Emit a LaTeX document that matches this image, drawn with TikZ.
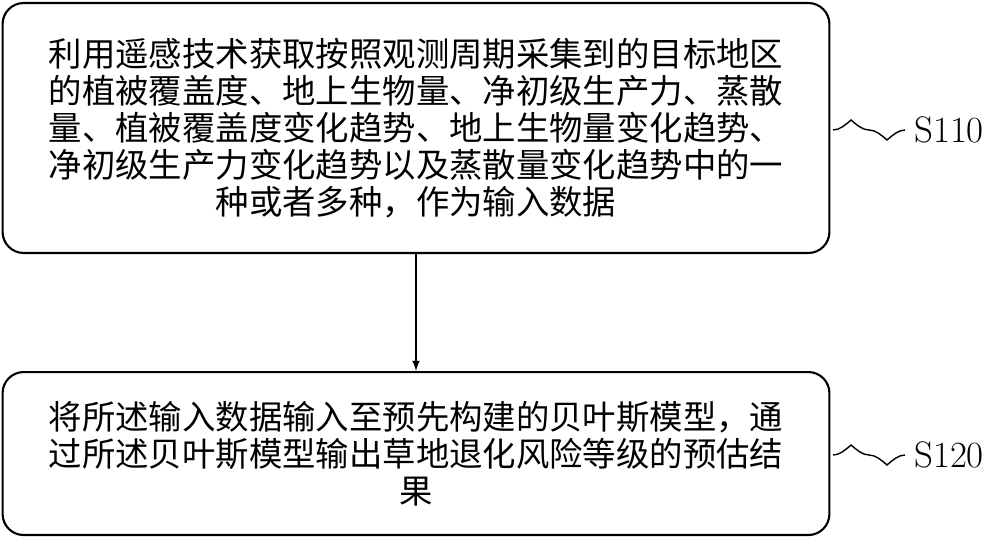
\documentclass[tikz,border=0pt]{standalone}
\usepackage{fontspec}
\newfontfamily\cjk{Noto Sans CJK SC}
\XeTeXlinebreaklocale "zh"
\XeTeXlinebreakskip = 0pt plus 1pt
\usetikzlibrary{positioning}
\begin{document}
\begin{tikzpicture}[x=0.02cm,y=-0.02cm]
	\tikzstyle{stepbox} = [draw,line width=1.2pt,rounded corners=12pt,minimum width=16.54cm,inner sep=0pt,align=center,font=\cjk\fontsize{19}{21}\selectfont]
	\tikzstyle{tag} = [font=\fontsize{21}{21}\selectfont,anchor=west]
	\useasboundingbox (0,0) rectangle (1000,537);
	
	\node[stepbox,minimum height=5cm] (s1) at (416,128){利用遥感技术获取按照观测周期采集到的目标地区\\的植被覆盖度、地上生物量、净初级生产力、蒸散\\量、植被覆盖度变化趋势、地上生物量变化趋势、\\净初级生产力变化趋势以及蒸散量变化趋势中的一\\种或者多种，作为输入数据};
	\node[stepbox,minimum height=3.26cm,below=2.34cm of s1] (s2){将所述输入数据输入至预先构建的贝叶斯模型，通\\过所述贝叶斯模型输出草地退化风险等级的预估结\\果};
	
	\draw[-latex,line width=1pt](s1.south) -- (s2.north);
	
	\node[tag] (t1) at (908,130){S110};
	\node[tag] (t2) at (908,455){S120};
	\draw[line width=0.8pt] ([xshift=-1.5cm]t1.west) cos +(18,-10) sin +(18,10) cos +(18,10) sin +(18,-10);
	\draw[line width=0.8pt] ([xshift=-1.5cm]t2.west) cos +(18,-10) sin +(18,10) cos +(18,10) sin +(18,-10);
\end{tikzpicture}
\end{document}
